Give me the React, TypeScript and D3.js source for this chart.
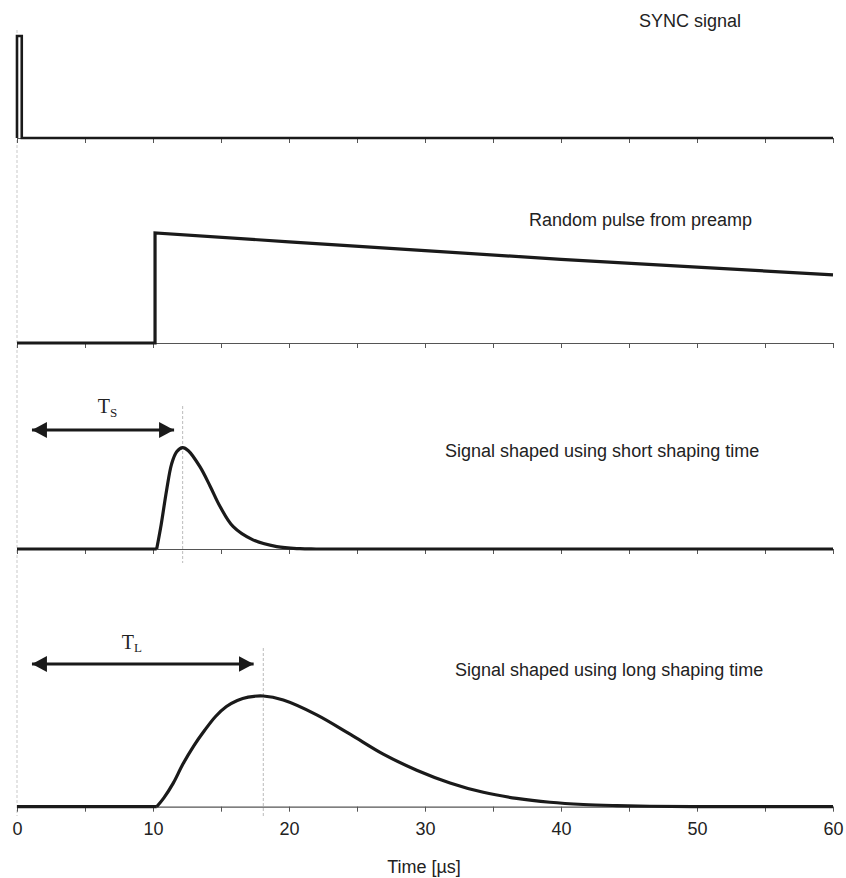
import { useEffect, useRef } from 'react';
import * as d3 from 'd3';

type Pt = [number, number];

// time in µs, amplitude normalised to the panel peak
const syncPulse: Pt[] = [[0, 0], [0, 1], [0.35, 1], [0.35, 0], [60, 0]];
const preampPulse: Pt[] = [[0, 0], [10.15, 0], [10.15, 1], [20, 0.92], [30, 0.84], [40, 0.76], [50, 0.69], [60, 0.62]];
const shortBase: Pt[] = [[0, 0], [10.27, 0]];
const shortPulse: Pt[] = [
  [10.27, 0], [10.6, 0.24], [11.0, 0.58], [11.37, 0.84], [11.74, 0.96], [12.18, 1.0], [12.6, 0.97],
  [13.46, 0.81], [14.2, 0.62], [14.93, 0.42], [15.9, 0.22], [17.35, 0.09], [19.1, 0.023], [20.8, 0.003], [22, 0], [30, 0], [60, 0],
];
const longBase: Pt[] = [[0, 0], [10.27, 0]];
const longPulse: Pt[] = [
  [10.27, 0], [10.8, 0.08], [11.5, 0.215], [12.2, 0.385], [13.0, 0.55], [13.8, 0.69], [14.6, 0.815], [15.4, 0.905],
  [16.2, 0.96], [17.0, 0.99], [18.11, 1.0], [19.58, 0.964], [22.04, 0.83], [24.49, 0.655], [26.93, 0.475],
  [29.39, 0.33], [31.84, 0.215], [34.29, 0.13], [36.74, 0.075], [39.19, 0.04], [41.64, 0.02], [44.1, 0.01],
  [46.54, 0.004], [50, 0.001], [54, 0], [60, 0],
];

const xTicks = d3.range(0, 61, 5);
const xLabels = [0, 10, 20, 30, 40, 50, 60];
const panelTitles = ['SYNC signal', 'Random pulse from preamp', 'Signal shaped using short shaping time', 'Signal shaped using long shaping time'];
const peakTimes = [12.18, 18.11];
const arrowSpans: Pt[] = [[1.1, 11.55], [1.1, 17.4]];
const arrowNames = [['T', 'S'], ['T', 'L']];

export default function App() {
  const ref = useRef<SVGSVGElement | null>(null);
  useEffect(() => {
    document.body.style.margin = '0';
    const svg = d3.select(ref.current!);
    svg.selectAll('*').remove();
    const W = 846, H = 878;
    svg.attr('viewBox', `0 0 ${W} ${H}`);

    const x = d3.scaleLinear().domain([0, 60]).range([17, 833]);
    // baseline / peak pixel per panel
    const panels = [
      { base: 138, top: 36, title: { x: 639, y: 27 } },
      { base: 343, top: 233, title: { x: 529, y: 226 } },
      { base: 549, top: 447.7, title: { x: 445, y: 457 } },
      { base: 806.7, top: 696, title: { x: 455, y: 676 } },
    ];
    const ys = panels.map((p) => d3.scaleLinear().domain([0, 1]).range([p.base, p.top]));

    const sans = 'Liberation Sans, Arial, sans-serif';
    const ink = '#1a1a1a';

    // faint guide at t = 0
    svg.append('line').attr('x1', x(0)).attr('x2', x(0)).attr('y1', 30).attr('y2', 816)
      .attr('stroke', '#bbb').attr('stroke-width', 0.8).attr('stroke-dasharray', '3,2');
    // guides at the shaped peaks
    const guideSpans: Pt[] = [[406, 563], [648, 817]];
    peakTimes.forEach((t, i) => {
      svg.append('line').attr('x1', x(t)).attr('x2', x(t)).attr('y1', guideSpans[i][0]).attr('y2', guideSpans[i][1])
        .attr('stroke', '#aaa').attr('stroke-width', 0.8).attr('stroke-dasharray', '3,2');
    });

    // axes
    panels.forEach((p, i) => {
      const ax = d3.axisBottom(x).tickValues(xTicks).tickSize(5).tickSizeOuter(0)
        .tickFormat((d) => (i === 3 && xLabels.includes(d as number) ? String(d) : ''));
      const g = svg.append('g').attr('transform', `translate(0,${p.base})`).call(ax);
      g.select('.domain').attr('stroke', '#555').attr('stroke-width', 1.2);
      g.selectAll('.tick line').attr('stroke', '#555').attr('stroke-width', 1);
      g.selectAll('.tick text').attr('font-size', 18).attr('font-family', sans).attr('fill', '#222').attr('dy', '1.15em');
    });

    const line = (yScale: d3.ScaleLinear<number, number>, curve: d3.CurveFactory) =>
      d3.line<Pt>().x((d) => x(d[0])).y((d) => Math.min(yScale(0), yScale(d[1]))).curve(curve);

    const draw = (data: Pt[], yScale: d3.ScaleLinear<number, number>, curve: d3.CurveFactory, w = 3.2, join = 'round') =>
      svg.append('path').attr('d', line(yScale, curve)(data)!).attr('fill', 'none')
        .attr('stroke', ink).attr('stroke-width', w).attr('stroke-linejoin', join);

    const smooth = d3.curveCatmullRom.alpha(0.5);
    draw(syncPulse, ys[0], d3.curveLinear, 2.6, 'miter');
    draw(preampPulse, ys[1], d3.curveLinear, 3.2, 'miter');
    draw(shortBase, ys[2], d3.curveLinear);
    draw(shortPulse, ys[2], smooth);
    draw(longBase, ys[3], d3.curveLinear);
    draw(longPulse, ys[3], smooth);

    // titles
    panels.forEach((p, i) => {
      svg.append('text').attr('x', p.title.x).attr('y', p.title.y).attr('font-family', sans)
        .attr('font-size', 18).attr('fill', '#222').text(panelTitles[i]);
    });

    svg.append('text').attr('x', 424).attr('y', 873).attr('text-anchor', 'middle').attr('font-family', sans)
      .attr('font-size', 18).attr('fill', '#222').text('Time [µs]');

    // double-headed arrows
    const defs = svg.append('defs');
    defs.append('marker').attr('id', 'ah').attr('viewBox', '0 0 15 16').attr('refX', 15).attr('refY', 8)
      .attr('markerWidth', 15).attr('markerHeight', 16).attr('markerUnits', 'userSpaceOnUse').attr('orient', 'auto-start-reverse')
      .append('path').attr('d', 'M0,0 L15,8 L0,16 Z').attr('fill', ink);

    const arrowY = [430, 664];
    const labelPos = [{ x: 97.7, y: 413 }, { x: 121.7, y: 648.5 }];
    arrowSpans.forEach((s, i) => {
      svg.append('line').attr('x1', x(s[0])).attr('x2', x(s[1])).attr('y1', arrowY[i]).attr('y2', arrowY[i])
        .attr('stroke', ink).attr('stroke-width', 3.2)
        .attr('marker-start', 'url(#ah)').attr('marker-end', 'url(#ah)');
      const t = svg.append('text').attr('x', labelPos[i].x).attr('y', labelPos[i].y)
        .attr('font-family', 'Liberation Serif, Times New Roman, serif').attr('font-size', 20).attr('fill', '#222');
      t.append('tspan').text(arrowNames[i][0]);
      t.append('tspan').attr('dy', 3.5).attr('font-size', 13).text(arrowNames[i][1]);
    });
  }, []);
  return <svg ref={ref} width={846} height={878} style={{ display: 'block' }} />;
}
